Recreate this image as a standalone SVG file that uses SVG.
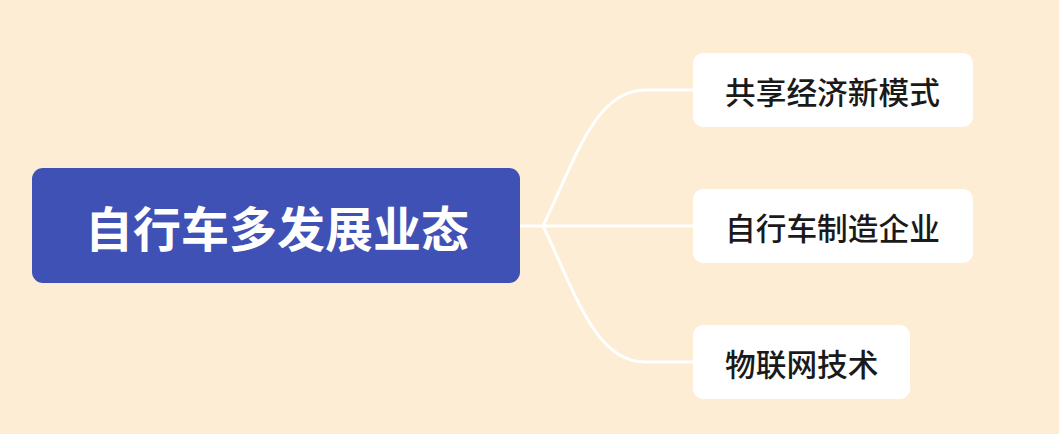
<svg xmlns="http://www.w3.org/2000/svg" width="1059" height="434" viewBox="0 0 1059 434">
<style>
.bg{fill:#FDEDD5}
.root{fill:#3F51B5}
.leaf{fill:#FFFFFF}
.rt{fill:#FFFFFF;font-family:"Noto Sans CJK SC","Noto Sans",sans-serif;font-size:48px;font-weight:700}
.lt{fill:#1A1A1A;font-family:"Noto Sans CJK SC","Noto Sans",sans-serif;font-size:30.7px;font-weight:500}
.conn{fill:none;stroke:#FFFFFF;stroke-width:3;stroke-linecap:round}
</style>
<rect class="bg" x="0" y="0" width="1059" height="434"/>
<g id="connectors">
<path class="conn" d="M520,226 L543,226"/>
<path class="conn" d="M543,226 C575,160 595,90 645,90 L693,90"/>
<path class="conn" d="M543,226 L693,226"/>
<path class="conn" d="M543,226 C575,292 595,362 645,362 L693,362"/>
</g>
<g id="root">
<rect class="root" x="32" y="168" width="488" height="115" rx="11"/>
<text class="rt" x="277" y="226" text-anchor="middle" dominant-baseline="central">自行车多发展业态</text>
</g>
<g id="node-1">
<rect class="leaf" x="693" y="53" width="280" height="74" rx="10"/>
<text class="lt" x="725" y="90" dominant-baseline="central">共享经济新模式</text>
</g>
<g id="node-2">
<rect class="leaf" x="693" y="189" width="280" height="74" rx="10"/>
<text class="lt" x="725" y="226" dominant-baseline="central">自行车制造企业</text>
</g>
<g id="node-3">
<rect class="leaf" x="693" y="325" width="217" height="74" rx="10"/>
<text class="lt" x="725" y="362" dominant-baseline="central">物联网技术</text>
</g>
</svg>
